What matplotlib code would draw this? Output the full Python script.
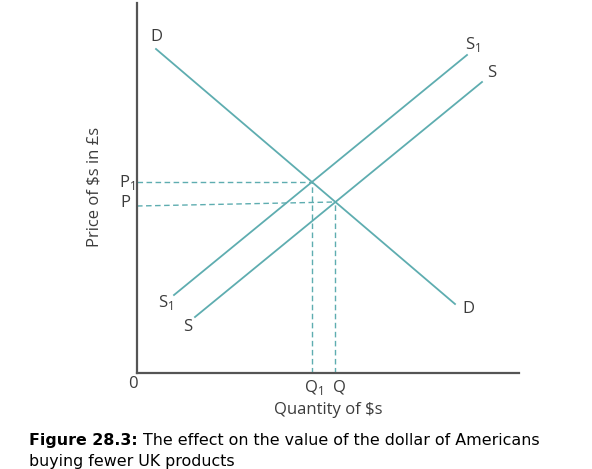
import matplotlib
matplotlib.use("Agg")
import matplotlib.pyplot as plt

# Curve endpoints (chart units: quantity 0..382, price 0..370)
demand_x = [19, 318]
demand_y = [324, 69]
supply1_x = [37, 330]
supply1_y = [78, 318]
supply_x = [58, 345]
supply_y = [56, 291]

# Equilibria
q1, p1 = 175, 191
q0, p0 = 198, 171
p0_left = 167  # the P guide line is slightly tilted in the original

line_col = "#5eadb0"
axis_col = "#555555"
text_col = "#3c3c3c"
lab_font = ["Open Sans", "DejaVu Sans"]

plt.rcParams["font.family"] = lab_font
plt.rcParams["mathtext.fontset"] = "custom"
plt.rcParams["mathtext.rm"] = "Open Sans"

fig = plt.figure(figsize=(5.92, 4.69), dpi=100)
ax = fig.add_axes([137 / 592, 96 / 469, 382 / 592, 370 / 469])
ax.set_xlim(0, 382)
ax.set_ylim(0, 370)

ax.plot(demand_x, demand_y, color=line_col, lw=1.3)
ax.plot(supply1_x, supply1_y, color=line_col, lw=1.3)
ax.plot(supply_x, supply_y, color=line_col, lw=1.3)

dash = dict(color=line_col, lw=1.0, linestyle=(0, (4, 2.5)))
ax.plot([0, q1], [p1, p1], **dash)
ax.plot([0, q0], [p0_left, p0], **dash)
ax.plot([q1, q1], [0, p1], **dash)
ax.plot([q0, q0], [0, p0], **dash)

for side in ["top", "right"]:
    ax.spines[side].set_visible(False)
for side in ["left", "bottom"]:
    ax.spines[side].set_color(axis_col)
    ax.spines[side].set_linewidth(1.6)
ax.set_xticks([])
ax.set_yticks([])

kw = dict(color=text_col, fontsize=12, family=lab_font, clip_on=False,
          ha="center", va="center")
sub1 = r"$_{\mathregular{1}}$"
ax.text(19, 336, "D", **kw)
ax.text(331, 64, "D", **kw)
ax.text(336, 328, "S" + sub1, **kw)
ax.text(355, 300, "S", **kw)
ax.text(29, 70, "S" + sub1, **kw)
ax.text(51, 46, "S", **kw)
ax.text(-10, p1 - 1, "P" + sub1, **kw)
ax.text(-12, p0_left + 3, "P", **kw)
ax.text(-4, -11, "0", **kw)
ax.text(q1 + 2, -14, "Q" + sub1, **kw)
ax.text(q0 + 4, -14, "Q", **kw)
ax.text(191, -37, "Quantity of \\$s", **kw)
ax.text(-42, 186, "Price of \\$s in £s", rotation=90, **kw)

# caption
cap = dict(fontsize=11.4, family="DejaVu Sans", color="black")
t0 = fig.text(29 / 592, 1 - 440 / 469, "Figure 28.3:", weight="bold",
              va="center", ha="left", **cap)
ax.annotate(" The effect on the value of the dollar of Americans",
            xy=(1, 0.5), xycoords=t0, va="center", ha="left",
            annotation_clip=False, **cap)
fig.text(29 / 592, 1 - 461 / 469, "buying fewer UK products",
         va="center", ha="left", **cap)

fig.savefig("out.png", dpi=100)
